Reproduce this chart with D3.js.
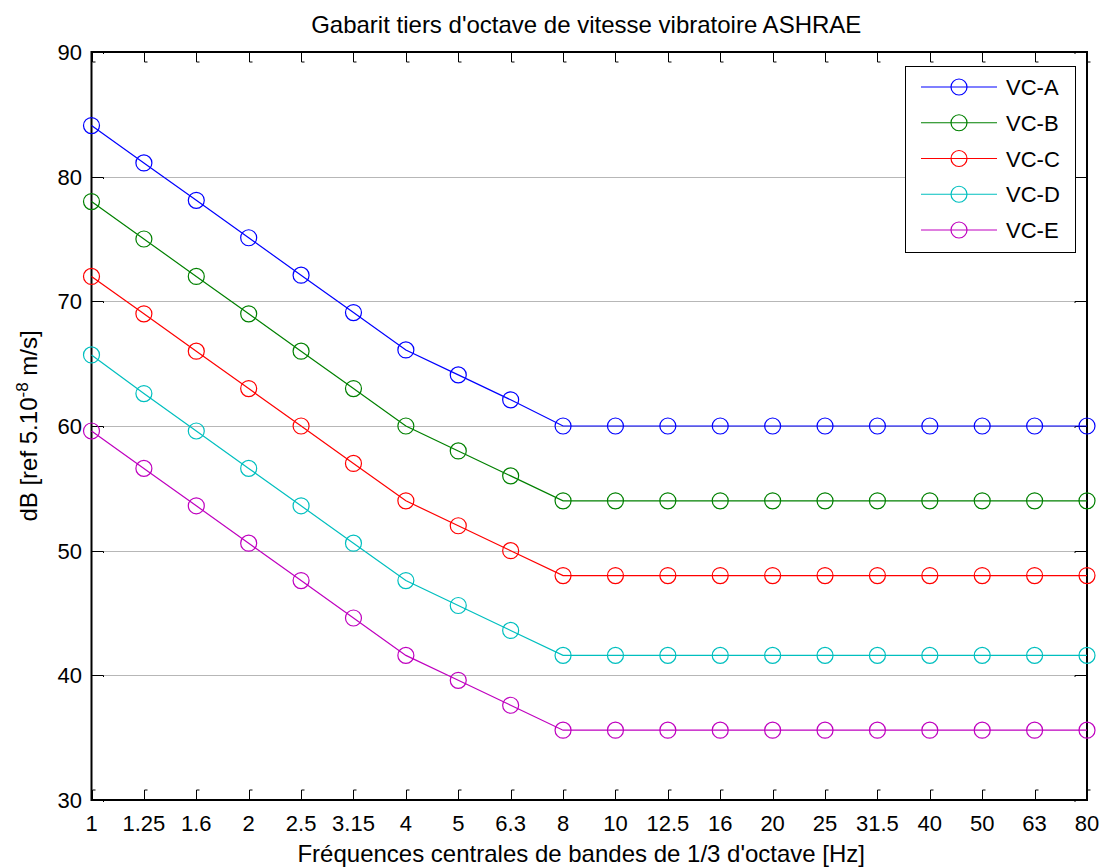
<!DOCTYPE html>
<html>
<head>
<meta charset="utf-8">
<script src="https://cdn.jsdelivr.net/npm/d3@7"></script>
<style>
  html, body { margin: 0; padding: 0; background: #fff; }
  svg { display: block; font-family: "Liberation Sans", Arial, Helvetica, sans-serif; }
</style>
</head>
<body>
<svg id="chart" width="1108" height="868"></svg>
<script>
// Third-octave band centre frequencies (Hz)
const bands = ["1", "1.25", "1.6", "2", "2.5", "3.15", "4", "5", "6.3", "8",
               "10", "12.5", "16", "20", "25", "31.5", "40", "50", "63", "80"];

// Vibration velocity criteria, dB ref 5e-8 m/s
const vcA = [84.1, 81.1, 78.1, 75.1, 72.1, 69.1, 66.1, 64.1, 62.1, 60.0,
             60.0, 60.0, 60.0, 60.0, 60.0, 60.0, 60.0, 60.0, 60.0, 60.0];
const vcB = [78.0, 75.0, 72.0, 69.0, 66.0, 63.0, 60.0, 58.0, 56.0, 54.0,
             54.0, 54.0, 54.0, 54.0, 54.0, 54.0, 54.0, 54.0, 54.0, 54.0];
const vcC = [72.0, 69.0, 66.0, 63.0, 60.0, 57.0, 54.0, 52.0, 50.0, 48.0,
             48.0, 48.0, 48.0, 48.0, 48.0, 48.0, 48.0, 48.0, 48.0, 48.0];
const vcD = [65.7, 62.6, 59.6, 56.6, 53.6, 50.6, 47.6, 45.6, 43.6, 41.6,
             41.6, 41.6, 41.6, 41.6, 41.6, 41.6, 41.6, 41.6, 41.6, 41.6];
const vcE = [59.6, 56.6, 53.6, 50.6, 47.6, 44.6, 41.6, 39.6, 37.6, 35.6,
             35.6, 35.6, 35.6, 35.6, 35.6, 35.6, 35.6, 35.6, 35.6, 35.6];

const seriesNames = ["VC-A", "VC-B", "VC-C", "VC-D", "VC-E"];
const seriesColors = ["#0000ff", "#008000", "#ff0000", "#00bfbf", "#bf00bf"];
const yTicks = [30, 40, 50, 60, 70, 80, 90];

const chartTitle = "Gabarit tiers d'octave de vitesse vibratoire ASHRAE";
const xTitle = "Fréquences centrales de bandes de 1/3 d'octave [Hz]";

const series = [vcA, vcB, vcC, vcD, vcE].map((vals, i) => ({
  name: seriesNames[i], color: seriesColors[i], values: vals
}));

const margin = { left: 91.5, right: 1087, top: 52, bottom: 800 };
const svg = d3.select("#chart");

const x = d3.scalePoint().domain(bands).range([margin.left, margin.right]);
const y = d3.scaleLinear().domain([30, 90]).range([margin.bottom, margin.top]);

// Horizontal dotted grid
svg.append("g").selectAll("line")
  .data(yTicks.filter(t => t > 30 && t < 90))
  .join("line")
  .attr("x1", margin.left).attr("x2", margin.right)
  .attr("y1", d => Math.round(y(d)) + 0.5).attr("y2", d => Math.round(y(d)) + 0.5)
  .attr("stroke", "#6e6e6e").attr("stroke-width", 1)
  .attr("stroke-dasharray", "1,1");

// Axes with inward tick marks on all four sides
const axisColor = "#000";
const tickLen = 10;

const ticks = svg.append("g").attr("fill", "none").attr("stroke", axisColor).attr("stroke-width", 1);
bands.forEach(b => {
  const xp = Math.round(x(b)) + 0.5;
  ticks.append("path").attr("d", `M${xp},${margin.bottom} V${margin.bottom - tickLen} h3`);
  ticks.append("path").attr("d", `M${xp},${margin.top} V${margin.top + tickLen} h3`);
});
yTicks.forEach(t => {
  const yp = Math.round(y(t)) + 0.5;
  ticks.append("path").attr("d", `M${margin.left},${yp} H${margin.left + tickLen + 2} v1.5`);
  ticks.append("path").attr("d", `M${margin.right},${yp} H${margin.right - tickLen - 2} v1.5`);
});

// Axes box
svg.append("rect")
  .attr("x", margin.left).attr("y", margin.top)
  .attr("width", margin.right - margin.left).attr("height", margin.bottom - margin.top)
  .attr("fill", "none").attr("stroke", axisColor).attr("stroke-width", 2);

// Tick labels
svg.append("g").selectAll("text").data(bands).join("text")
  .attr("x", d => x(d)).attr("y", 831)
  .attr("text-anchor", "middle").attr("font-size", 22).attr("fill", "#000")
  .text(d => d);

svg.append("g").selectAll("text").data(yTicks).join("text")
  .attr("x", 82).attr("y", d => y(d) + 8)
  .attr("text-anchor", "end").attr("font-size", 22).attr("fill", "#000")
  .text(d => d);

// Series lines and circle markers
const line = d3.line().x((d, i) => x(bands[i])).y(d => y(d));
const plot = svg.append("g");
series.forEach(s => {
  plot.append("path").datum(s.values)
    .attr("d", line).attr("fill", "none")
    .attr("stroke", s.color).attr("stroke-width", 1.2);
  plot.append("g").selectAll("circle").data(s.values).join("circle")
    .attr("cx", (d, i) => x(bands[i])).attr("cy", d => y(d))
    .attr("r", 8).attr("fill", "none")
    .attr("stroke", s.color).attr("stroke-width", 1.2);
});

// Title and axis labels
const midX = (margin.left + margin.right) / 2;
svg.append("text")
  .attr("x", midX - 3).attr("y", 33)
  .attr("text-anchor", "middle").attr("font-size", 24).attr("fill", "#000")
  .text(chartTitle);

svg.append("text")
  .attr("x", midX - 8).attr("y", 862)
  .attr("text-anchor", "middle").attr("font-size", 24).attr("fill", "#000")
  .text(xTitle);

const yLab = svg.append("text")
  .attr("transform", `translate(37,${(margin.top + margin.bottom) / 2}) rotate(-90)`)
  .attr("text-anchor", "middle").attr("font-size", 24).attr("fill", "#000");
yLab.append("tspan").text("dB [ref 5.10");
yLab.append("tspan").attr("dy", -9).attr("font-size", 17).text("-8");
yLab.append("tspan").attr("dy", 9).text(" m/s]");

// Legend
const lg = { x0: 905, y0: 66, x1: 1075, y1: 252 };
svg.append("rect")
  .attr("x", lg.x0 + 0.5).attr("y", lg.y0 + 0.5)
  .attr("width", lg.x1 - lg.x0).attr("height", lg.y1 - lg.y0)
  .attr("fill", "#fff").attr("stroke", "#000").attr("stroke-width", 1);

const legendRow = d3.scalePoint().domain(seriesNames).range([87, 230]);
const legend = svg.append("g");
series.forEach(s => {
  const ly = legendRow(s.name);
  legend.append("line")
    .attr("x1", 921).attr("x2", 997).attr("y1", ly).attr("y2", ly)
    .attr("stroke", s.color).attr("stroke-width", 1.2);
  legend.append("circle")
    .attr("cx", 959).attr("cy", ly).attr("r", 8)
    .attr("fill", "none").attr("stroke", s.color).attr("stroke-width", 1.2);
  legend.append("text")
    .attr("x", 1006).attr("y", ly + 8)
    .attr("font-size", 22).attr("fill", "#000")
    .text(s.name);
});
</script>
</body>
</html>
